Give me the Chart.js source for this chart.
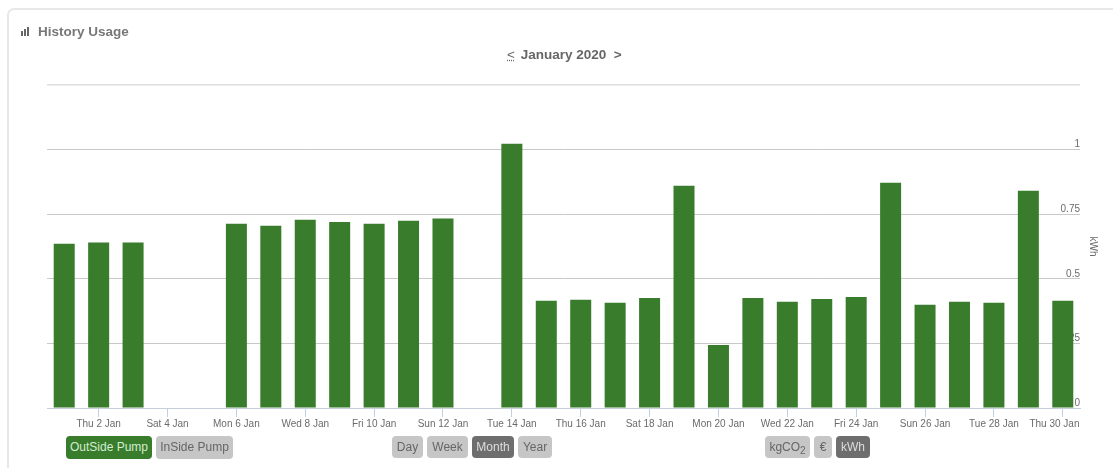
<!DOCTYPE html>
<html>
<head>
<meta charset="utf-8">
<title>History Usage</title>
<script src="https://cdn.jsdelivr.net/npm/chart.js@4/dist/chart.umd.min.js"></script>
<style>
    html, body { margin: 0; width: 1113px; height: 468px; overflow: hidden; background: #fff; font-family: "Liberation Sans", Arial, sans-serif; }
    #panel { position: absolute; left: 7px; top: 8px; width: 1200px; height: 600px; border: 2px solid #e8e8e8; border-radius: 7px; box-sizing: border-box; }
    #usageChart { position: absolute; left: 0; top: 0; }
    .heading { position: absolute; left: 38px; top: 24px; font-size: 13.5px; font-weight: bold; color: #777; }
    .icon { position: absolute; left: 21px; top: 27px; width: 9px; height: 9px; }
    .icon i { position: absolute; bottom: 0; width: 2px; background: #666; }
    .period { position: absolute; left: 507px; top: 47px; font-size: 13.5px; font-weight: bold; color: #666; white-space: pre; }
    .period u { text-decoration: underline dotted; font-weight: normal; margin-right: 2px; }
    .btn { position: absolute; top: 436px; height: 22px; line-height: 22px; text-align: center; font-size: 12px; border-radius: 4px; background: #c6c6c6; color: #666; }
    .btn.on { background: #6e6e6e; color: #ddd; }
    .btn.green { background: #387c2c; color: #d5ecd0; height: 23px; }
    .btn sub { font-size: 10px; line-height: 0; }
</style>
</head>
<body>
<div id="panel"></div>
<canvas id="usageChart" width="1113" height="468"></canvas>

<div class="icon"><i style="left:0;height:5px"></i><i style="left:3px;height:7px"></i><i style="left:6px;height:9px"></i></div>
<div class="heading">History Usage</div>
<div class="period"><u>&lt;</u> January 2020  &gt;</div>

<div class="btn green" style="left:66px;width:86px">OutSide Pump</div>
<div class="btn" style="left:156px;width:77px;height:23px">InSide Pump</div>
<div class="btn" style="left:392px;width:31px">Day</div>
<div class="btn" style="left:427px;width:41px">Week</div>
<div class="btn on" style="left:472px;width:42px">Month</div>
<div class="btn" style="left:518px;width:34px">Year</div>
<div class="btn" style="left:765px;width:45px">kgCO<sub>2</sub></div>
<div class="btn" style="left:814px;width:18px">€</div>
<div class="btn on" style="left:836px;width:34px">kWh</div>

<script>
const days = ['Wed 1 Jan', 'Thu 2 Jan', 'Fri 3 Jan', 'Sat 4 Jan', 'Sun 5 Jan', 'Mon 6 Jan', 'Tue 7 Jan', 'Wed 8 Jan',
    'Thu 9 Jan', 'Fri 10 Jan', 'Sat 11 Jan', 'Sun 12 Jan', 'Mon 13 Jan', 'Tue 14 Jan', 'Wed 15 Jan', 'Thu 16 Jan',
    'Fri 17 Jan', 'Sat 18 Jan', 'Sun 19 Jan', 'Mon 20 Jan', 'Tue 21 Jan', 'Wed 22 Jan', 'Thu 23 Jan', 'Fri 24 Jan',
    'Sat 25 Jan', 'Sun 26 Jan', 'Mon 27 Jan', 'Tue 28 Jan', 'Wed 29 Jan', 'Thu 30 Jan'];

const outsidePump = [0.636, 0.64, 0.64, 0, 0, 0.713, 0.705, 0.729, 0.72, 0.713, 0.725, 0.733, 0, 1.023, 0.415,
    0.419, 0.407, 0.426, 0.86, 0.244, 0.426, 0.411, 0.422, 0.43, 0.872, 0.4, 0.411, 0.407, 0.841, 0.415];

const gridColor = '#c9c9c9';
const axisColor = '#c3d0dc';
const textColor = '#6b6b6b';

new Chart(document.getElementById('usageChart'), {
    type: 'bar',
    data: {
        labels: days,
        datasets: [{
            label: 'OutSide Pump',
            data: outsidePump,
            backgroundColor: '#387c2c',
            categoryPercentage: 1,
            barPercentage: 0.61
        }]
    },
    options: {
        responsive: false,
        animation: false,
        layout: { padding: { left: 47, top: 85, right: 14, bottom: 37 } },
        plugins: {
            legend: { display: false },
            title: { display: false }
        },
        scales: {
            x: {
                // only every second day gets a tick and a label
                afterBuildTicks: (scale) => {
                    scale.ticks = scale.ticks.filter((t) => t.value % 2 === 1);
                },
                grid: { drawOnChartArea: false, offset: false, color: axisColor, tickLength: 9 },
                border: { color: axisColor },
                ticks: {
                    autoSkip: false,
                    maxRotation: 0,
                    padding: 1,
                    color: textColor,
                    font: { family: '"Liberation Sans"', size: 10 },
                    callback: function (value) {
                        const label = this.getLabelForValue(value);
                        // the last label is pushed left so it stays inside the plot
                        return value === days.length - 1 ? label + '\u00a0'.repeat(6) : label;
                    }
                }
            },
            y: {
                position: 'right',
                min: 0,
                max: 1.25,
                title: {
                    display: true,
                    text: 'kWh',
                    color: textColor,
                    font: { family: '"Liberation Sans"', size: 10 },
                    padding: { top: 0, bottom: 7 }
                },
                grid: {
                    drawTicks: false,
                    color: (ctx) => (ctx.tick.value === 1.25 ? '#dedede' : ctx.tick.value === 0 ? axisColor : gridColor),
                    lineWidth: (ctx) => (ctx.tick.value === 1.25 ? 1.5 : 1)
                },
                border: { display: false },
                ticks: {
                    stepSize: 0.25,
                    mirror: true,
                    padding: 0,
                    color: textColor,
                    font: { family: '"Liberation Sans"', size: 10, lineHeight: 1 },
                    // the empty second line lifts each label above its grid line
                    callback: (value) => (value === 1.25 ? '' : [String(value), ''])
                }
            }
        }
    }
});
</script>
</body>
</html>
